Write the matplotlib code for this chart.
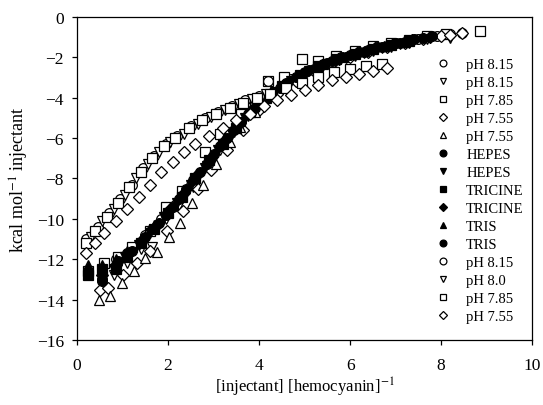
import matplotlib
matplotlib.use("Agg")
import matplotlib.pyplot as plt

plt.rcParams["font.family"] = ["Liberation Serif", "DejaVu Serif"]
plt.rcParams["mathtext.fontset"] = "stix"

# -- lower family (steep rise), open markers --------------------------------
b_ph815_o_x = [0.55, 0.85, 1.2, 1.5, 1.85, 2.15, 2.5, 2.85, 3.2, 3.55, 3.9, 4.3, 4.7, 5.1, 5.5, 5.9, 6.3, 6.7, 7.1, 7.5, 7.9, 8.2, 8.45]
b_ph815_o_y = [-12.5, -12.0, -11.4, -10.8, -10.0, -9.3, -8.3, -7.3, -6.3, -5.4, -4.5, -3.7, -3.1, -2.65, -2.3, -2.0, -1.75, -1.5, -1.3, -1.1, -0.95, -0.85, -0.78]
b_ph815_v_x = [0.55, 0.8, 1.1, 1.4, 1.65, 1.95, 2.25, 2.55, 2.85, 3.15, 3.45, 3.75, 4.1, 4.5, 4.9, 5.3, 5.7, 6.1, 6.5, 6.9, 7.3, 7.7, 8.2]
b_ph815_v_y = [-12.9, -12.8, -12.2, -11.5, -11.4, -10.0, -9.3, -8.4, -7.4, -6.6, -5.7, -4.9, -4.1, -3.5, -3.0, -2.55, -2.2, -1.95, -1.7, -1.5, -1.3, -1.1, -1.05]
b_ph785_s_x = [0.25, 0.6, 0.9, 1.2, 1.6, 1.95, 2.3, 2.8, 3.15, 3.6, 3.9, 4.2, 4.55, 4.95, 5.3, 5.7, 6.1, 6.5, 6.9, 7.3, 7.7, 8.1, 8.85]
b_ph785_s_y = [-12.6, -12.2, -11.9, -11.4, -10.6, -9.4, -8.6, -6.7, -5.8, -4.8, -4.2, -3.2, -3.0, -2.1, -2.2, -1.95, -1.7, -1.45, -1.3, -1.15, -0.95, -0.85, -0.7]
b_ph755_d_x = [0.5, 0.68, 1.0, 1.32, 1.6, 1.98, 2.33, 2.65, 2.95, 3.3, 3.65, 4.0, 4.4, 4.8, 5.2, 5.6, 6.0, 6.4, 6.8, 7.2, 7.6, 8.0, 8.2, 8.45]
b_ph755_d_y = [-13.5, -13.4, -12.8, -12.2, -11.6, -10.6, -9.6, -8.5, -7.6, -6.6, -5.6, -4.6, -3.8, -3.2, -2.7, -2.3, -2.0, -1.75, -1.5, -1.3, -1.1, -0.95, -0.88, -0.8]
b_ph755_t_x = [0.48, 0.73, 0.99, 1.25, 1.5, 1.76, 2.02, 2.27, 2.53, 2.77, 3.05, 3.36, 3.58, 3.9]
b_ph755_t_y = [-14.0, -13.8, -13.2, -12.6, -11.95, -11.65, -10.9, -10.2, -9.2, -8.3, -7.3, -6.2, -5.45, -4.7]

# -- lower family, filled markers (buffers) ---------------------------------
hepes_o_x = [0.55, 0.85, 1.1, 1.4, 1.65, 1.95, 2.25, 2.55, 2.85, 3.15, 3.45, 3.75, 4.1, 4.45, 4.8, 5.2, 5.6, 6.0, 6.4, 6.8, 7.2, 7.6]
hepes_o_y = [-13.0, -12.4, -11.7, -11.2, -10.5, -9.8, -9.0, -8.1, -7.3, -6.4, -5.6, -4.8, -4.1, -3.5, -3.0, -2.6, -2.2, -1.9, -1.65, -1.45, -1.25, -1.05]
hepes_v_x = [0.55, 0.8, 1.05, 1.35, 1.6, 1.9, 2.2, 2.5, 2.8, 3.1, 3.4, 3.7, 4.0, 4.35, 4.7, 5.1, 5.5, 5.9, 6.3, 6.7, 7.1]
hepes_v_y = [-12.6, -12.5, -11.9, -11.3, -10.7, -9.9, -9.2, -8.3, -7.5, -6.6, -5.8, -5.0, -4.3, -3.7, -3.2, -2.7, -2.35, -2.05, -1.8, -1.55, -1.35]
tricine_s_x = [0.25, 0.55, 0.85, 1.1, 1.4, 1.7, 2.0, 2.3, 2.6, 2.9, 3.2, 3.5, 3.8, 4.15, 4.5, 4.9, 5.3, 5.7, 6.1, 6.5, 6.9, 7.3]
tricine_s_y = [-12.8, -12.5, -12.5, -11.9, -11.2, -10.5, -9.7, -8.9, -8.0, -7.1, -6.3, -5.5, -4.7, -4.0, -3.4, -2.9, -2.45, -2.1, -1.85, -1.6, -1.4, -1.2]
tricine_d_x = [0.55, 0.85, 1.15, 1.45, 1.75, 2.05, 2.35, 2.65, 2.95, 3.25, 3.55, 3.85, 4.2, 4.55, 4.95, 5.35, 5.75, 6.15, 6.55, 6.95, 7.35, 7.75]
tricine_d_y = [-12.8, -12.3, -11.7, -11.0, -10.3, -9.5, -8.7, -7.8, -7.0, -6.1, -5.3, -4.6, -3.9, -3.35, -2.85, -2.45, -2.1, -1.8, -1.55, -1.35, -1.15, -1.0]
tris_t_x = [0.25, 0.55, 0.85, 1.1, 1.4, 1.7, 2.0, 2.3, 2.6, 2.9, 3.2, 3.5, 3.8, 4.15, 4.55, 4.95, 5.4, 5.85, 6.3, 6.75, 7.2]
tris_t_y = [-12.3, -12.3, -12.0, -11.6, -11.0, -10.3, -9.6, -8.8, -7.9, -7.0, -6.2, -5.4, -4.6, -3.9, -3.3, -2.8, -2.35, -2.0, -1.7, -1.45, -1.25]
tris_o_x = [0.55, 0.9, 1.2, 1.5, 1.8, 2.1, 2.4, 2.7, 3.0, 3.3, 3.6, 3.9, 4.25, 4.6, 5.0, 5.4, 5.8, 6.2, 6.6, 7.0, 7.4, 7.8]
tris_o_y = [-13.1, -12.1, -11.6, -10.9, -10.2, -9.4, -8.5, -7.7, -6.8, -6.0, -5.2, -4.5, -3.8, -3.25, -2.75, -2.35, -2.0, -1.75, -1.5, -1.3, -1.1, -0.95]

# -- upper family (gentle rise), open markers -------------------------------
a_ph815_o_x = [0.2, 0.45, 0.7, 0.95, 1.2, 1.45, 1.7, 1.95, 2.2, 2.5, 2.8, 3.1, 3.4, 3.7, 4.0, 4.2]
a_ph815_o_y = [-11.0, -10.4, -9.7, -9.0, -8.3, -7.5, -6.9, -6.3, -5.9, -5.4, -5.0, -4.7, -4.4, -4.1, -3.9, -3.2]
a_ph80_v_x = [0.3, 0.55, 0.8, 1.05, 1.3, 1.55, 1.8, 2.05, 2.35, 2.65, 2.95, 3.25, 3.55, 3.85, 4.15]
a_ph80_v_y = [-10.9, -10.1, -9.5, -8.8, -8.0, -7.3, -6.7, -6.2, -5.8, -5.3, -4.95, -4.6, -4.3, -4.05, -3.8]
a_ph785_s_x = [0.2, 0.4, 0.65, 0.9, 1.15, 1.4, 1.65, 1.9, 2.15, 2.45, 2.75, 3.05, 3.35, 3.65, 3.95, 4.25, 4.6, 4.95, 5.3, 5.65, 6.0, 6.35, 6.7]
a_ph785_s_y = [-11.2, -10.6, -9.9, -9.2, -8.4, -7.7, -7.0, -6.4, -6.0, -5.5, -5.1, -4.8, -4.5, -4.25, -4.0, -3.8, -3.5, -3.25, -3.0, -2.75, -2.6, -2.45, -2.35]
a_ph755_d_x = [0.2, 0.4, 0.6, 0.85, 1.1, 1.35, 1.6, 1.85, 2.1, 2.35, 2.6, 2.9, 3.2, 3.5, 3.8, 4.1, 4.4, 4.7, 5.0, 5.3, 5.6, 5.9, 6.2, 6.5, 6.8]
a_ph755_d_y = [-11.7, -11.2, -10.7, -10.1, -9.5, -8.9, -8.3, -7.7, -7.2, -6.7, -6.3, -5.9, -5.5, -5.1, -4.8, -4.4, -4.1, -3.85, -3.6, -3.35, -3.15, -3.0, -2.85, -2.7, -2.55]

series = [
    ("pH 8.15", "o", False, b_ph815_o_x, b_ph815_o_y),
    ("pH 8.15", "v", False, b_ph815_v_x, b_ph815_v_y),
    ("pH 7.85", "s", False, b_ph785_s_x, b_ph785_s_y),
    ("pH 7.55", "D", False, b_ph755_d_x, b_ph755_d_y),
    ("pH 7.55", "^", False, b_ph755_t_x, b_ph755_t_y),
    ("HEPES", "o", True, hepes_o_x, hepes_o_y),
    ("HEPES", "v", True, hepes_v_x, hepes_v_y),
    ("TRICINE", "s", True, tricine_s_x, tricine_s_y),
    ("TRICINE", "D", True, tricine_d_x, tricine_d_y),
    ("TRIS", "^", True, tris_t_x, tris_t_y),
    ("TRIS", "o", True, tris_o_x, tris_o_y),
    ("pH 8.15", "o", False, a_ph815_o_x, a_ph815_o_y),
    ("pH 8.0", "v", False, a_ph80_v_x, a_ph80_v_y),
    ("pH 7.85", "s", False, a_ph785_s_x, a_ph785_s_y),
    ("pH 7.55", "D", False, a_ph755_d_x, a_ph755_d_y),
]

fig = plt.figure(figsize=(5.43, 4.06), dpi=100)
ax = fig.add_axes([0.142, 0.16, 0.838, 0.796])

for label, marker, filled, xs, ys in series:
    size = 6.0 if marker == "D" else 7.0
    ax.plot(xs, ys, ls="none", marker=marker, ms=size, mew=0.9,
            mec="black", mfc="black" if filled else "white", label=label)

ax.set_xlim(0, 10)
ax.set_ylim(-16, 0)
ax.set_xticks([0, 2, 4, 6, 8, 10])
ax.set_yticks(range(-16, 1, 2))
ax.tick_params(direction="out", length=3.5, width=0.9, labelsize=12.5)
ax.tick_params(axis="x", pad=9)
ax.tick_params(axis="y", pad=6)
for sp in ax.spines.values():
    sp.set_linewidth(0.9)

ax.set_xlabel(r"[injectant] [hemocyanin]$^{-1}$", fontsize=12, labelpad=1)
ax.set_ylabel(r"kcal mol$^{-1}$ injectant", fontsize=13, labelpad=4)

ax.legend(loc="upper left", bbox_to_anchor=(0.775, 0.897), frameon=False,
          fontsize=10.5, markerscale=0.7, handlelength=0.8, handletextpad=1.2,
          labelspacing=0.33, borderpad=0)

fig.savefig("out.png", dpi=100)
